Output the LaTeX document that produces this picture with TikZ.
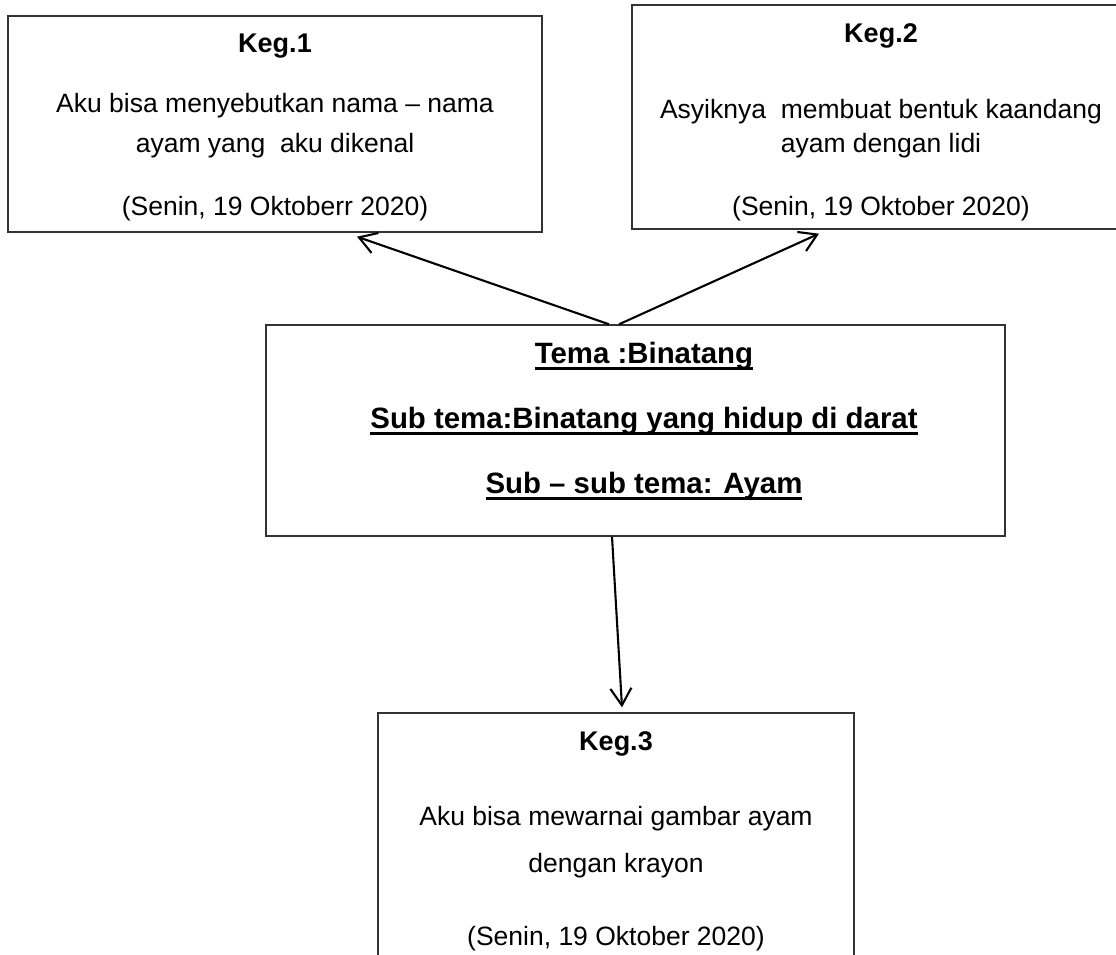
\documentclass[tikz,border=0pt]{standalone}
\usepackage{fontspec}
\setmainfont{Liberation Sans}
\usetikzlibrary{arrows.meta}
\newcommand\myul[1]{\setbox0\hbox{#1}\rlap{\rule[-6.5pt]{\wd0}{2.8pt}}\box0}
\tikzset{
  boxframe/.style={draw=black!80, line width=1.4pt, inner sep=0pt},
  arr/.style={line width=2.1pt, -{Straight Barb[length=17pt,width=21pt]}},
  txt/.style={anchor=base, inner sep=0pt, font=\fontsize{26.5}{30}\selectfont},
  keg/.style={anchor=base, inner sep=0pt, font=\fontsize{27}{30}\selectfont\bfseries},
  tema/.style={anchor=base, inner sep=0pt, font=\fontsize{29.4}{34}\selectfont\bfseries},
}
\begin{document}
\begin{tikzpicture}[x=1pt,y=-1pt]
\useasboundingbox (0,0) rectangle (1116,955);
\fill[white] (0,0) rectangle (1116,955);
\clip (0,0) rectangle (1116,955);
% boxes
\node[boxframe, minimum width=534pt, minimum height=216pt] (k1) at (275,124) {};
\node[boxframe, minimum width=498pt, minimum height=224pt] (k2) at (881,117) {};
\node[boxframe, minimum width=739pt, minimum height=211pt] (c) at (635.5,430.5) {};
\node[boxframe, minimum width=476pt, minimum height=300pt] (k3) at (616,863) {};
% box 1 text
\node[keg] (k1t) at (275,53) {Keg.1};
\node[txt] (k1a) at (275,113) {Aku bisa menyebutkan nama – nama};
\node[txt] (k1b) at (275,153) {ayam yang~ aku dikenal};
\node[txt] (k1c) at (275,215) {(Senin, 19 Oktoberr 2020)};
% box 2 text
\node[keg] (k2t) at (881,43) {Keg.2};
\node[txt] (k2a) at (881,119) {Asyiknya~ membuat bentuk kaandang};
\node[txt] (k2b) at (881,153) {ayam dengan lidi};
\node[txt] (k2c) at (881,215) {(Senin, 19 Oktober 2020)};
% center text
\node[tema] (ct1) at (644,363) {\myul{Tema :Binatang}};
\node[tema] (ct2) at (644,428) {\myul{Sub tema:Binatang yang hidup di darat}};
\node[tema] (ct3) at (644,493) {\myul{Sub – sub tema: Ayam}};
% box 3 text
\node[keg] (k3t) at (616,750) {Keg.3};
\node[txt] (k3a) at (616,825) {Aku bisa mewarnai gambar ayam};
\node[txt] (k3b) at (616,872) {dengan krayon};
\node[txt] (k3c) at (616,945) {(Senin, 19 Oktober 2020)};
% arrows
\draw[arr] ([xshift=-26.5pt]c.north) -- ([xshift=82pt,yshift=-4pt]k1.south);
\draw[arr] ([xshift=-16.5pt]c.north) -- ([xshift=-62pt,yshift=-4pt]k2.south);
\draw[arr] ([xshift=-23.5pt]c.south) -- ([xshift=6pt,yshift=5pt]k3.north);
\end{tikzpicture}
\end{document}
